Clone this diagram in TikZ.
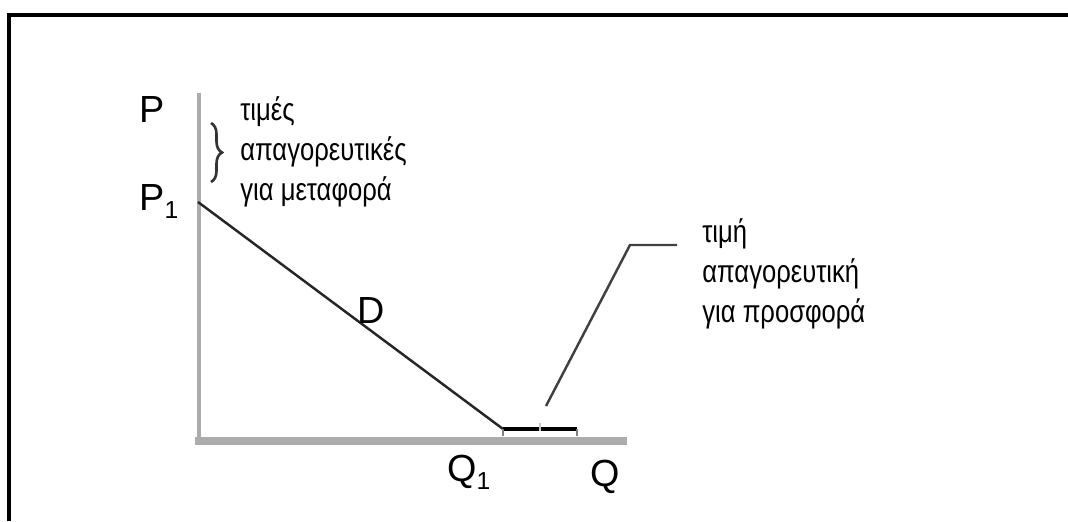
\documentclass[tikz,border=0pt]{standalone}
\usepackage{fontspec}
\setmainfont{Liberation Sans}
\newfontfamily\grfont[FakeStretch=0.81]{Liberation Sans}
\usetikzlibrary{decorations.pathreplacing}
\newcommand\subone{\raisebox{-0.17cm}{\fontsize{14}{14}\selectfont 1}}

\begin{document}
\begin{tikzpicture}[x=0.02cm,y=-0.02cm,
    axisline/.style={gray!65, line width=2.8pt},
    lbl/.style={font=\fontsize{21.5}{25}\selectfont, inner sep=0pt, anchor=base west},
    note/.style={font=\grfont\fontsize{18}{22.7}\selectfont, inner sep=0pt, anchor=base west, align=left}]
  \useasboundingbox (0,0) rectangle (1068,521);
  \draw[line width=2.55pt] (9,521) -- (9,15) -- (1068,15);

  \coordinate (O) at (195,441);
  \coordinate (ybot) at (199,441);
  \coordinate (ytop) at (199,93);
  \coordinate (xend) at (627,441);
  \draw[axisline] (ybot) -- (ytop);
  \draw[axisline, line width=4.5pt] (O) -- (xend);

  \coordinate (p1) at (198,202);
  \coordinate (q1) at (503,429);
  \coordinate (qe) at (577,429);
  \draw[black!85, line width=1.4pt] (p1) -- (q1);
  \draw[black, line width=2.2pt] (q1) -- (qe);
  \draw[gray, line width=1pt] (q1) -- ++(0,7);
  \draw[gray, line width=1pt] (qe) -- ++(0,7);
  \draw[gray!45, line width=1pt] (540,423) -- (540,431);

  \coordinate (lead) at (546,406);
  \coordinate (bend) at (630,245);
  \coordinate (lend) at (677,245);
  \draw[black!75, line width=1.4pt] (lead) -- (bend) -- (lend);

  \draw[black!80, line width=1.5pt, decorate, decoration={brace, amplitude=0.22cm}] (211,123) -- (211,182);

  \node[lbl] (P) at (139,122) {P};
  \node[lbl] (P1) at (139,210) {P\subone};
  \node[lbl] (D) at (357,323) {D};
  \node[lbl] (Q1) at (447,481) {Q\subone};
  \node[lbl] (Q) at (590,486) {Q};

  \node[note] (forbid) at (240,200) {τιμές\\απαγορευτικές\\για μεταφορά};
  \node[note] (supply) at (702,322) {τιμή\\απαγορευτική\\για προσφορά};
\end{tikzpicture}
\end{document}
